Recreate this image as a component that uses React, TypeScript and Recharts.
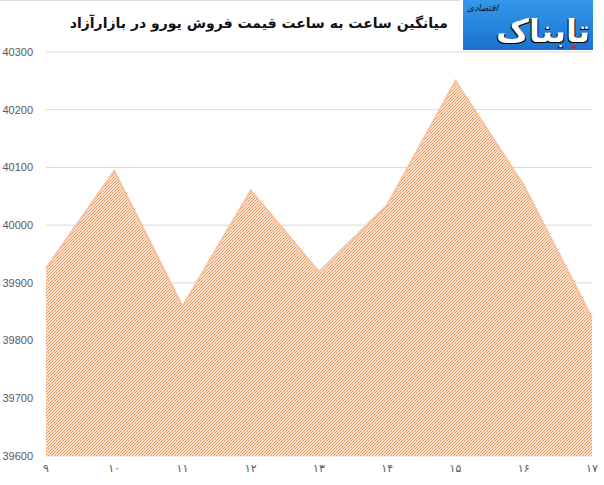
import React from "react";
import { AreaChart, Area, XAxis, YAxis, CartesianGrid } from "recharts";

const hours = ["۹", "۱۰", "۱۱", "۱۲", "۱۳", "۱۴", "۱۵", "۱۶", "۱۷"];
const prices = [39925, 40094, 39859, 40060, 39919, 40035, 40250, 40069, 39839];
const yTicks = [39600, 39700, 39800, 39900, 40000, 40100, 40200, 40300];

const data = hours.map((hour, i) => ({ hour, price: prices[i] }));

const title = "میانگین ساعت به ساعت قیمت فروش یورو در بازارآزاد";

function Logo() {
  return (
    <div
      style={{
        position: "absolute",
        left: 463,
        top: 0,
        width: 130,
        height: 50,
        background: "linear-gradient(180deg, #3499ea 0%, #1a72cf 100%)",
        overflow: "hidden",
      }}
    >
      <div
        dir="rtl"
        style={{
          position: "absolute",
          right: 3,
          top: 16,
          fontFamily: "'DejaVu Sans', sans-serif",
          fontWeight: "bold",
          fontSize: 32,
          color: "#ffffff",
          textShadow: "1px 1px 0 #000, -1px 1px 0 #000",
          lineHeight: "30px",
        }}
      >
        تابناک
      </div>
      <div
        dir="rtl"
        style={{
          position: "absolute",
          left: 4,
          top: 2,
          fontFamily: "'DejaVu Sans', sans-serif",
          fontSize: 9,
          fontStyle: "italic",
          color: "#111111",
          lineHeight: "12px",
        }}
      >
        اقتصادی
      </div>
      <div
        style={{
          position: "absolute",
          right: 17,
          top: 45,
          width: 4,
          height: 4,
          borderRadius: 2,
          background: "#e02020",
        }}
      />
    </div>
  );
}

export default function App() {
  return (
    <div
      style={{
        position: "absolute",
        left: 0,
        top: 0,
        width: 604,
        height: 485,
        background: "#ffffff",
        overflow: "hidden",
      }}
    >
      <div
        style={{
          position: "absolute",
          left: 0,
          top: 0,
          width: 460,
          height: 1,
          background: "#dcdcdc",
        }}
      />
      <div
        dir="rtl"
        style={{
          position: "absolute",
          right: 156,
          top: 15,
          fontFamily: "'DejaVu Sans', sans-serif",
          fontWeight: "bold",
          fontSize: 14,
          letterSpacing: 0.35,
          color: "#111111",
          whiteSpace: "nowrap",
        }}
      >
        {title}
      </div>
      <div style={{ position: "absolute", left: 0, top: 0 }}>
        <AreaChart
          width={604}
          height={485}
          data={data}
          margin={{ top: 52, right: 12, bottom: 0, left: 0 }}
        >
          <defs>
            <pattern
              id="hatch"
              patternUnits="userSpaceOnUse"
              width="3"
              height="3"
            >
              <rect width="3" height="3" fill="#fde5d3" shapeRendering="crispEdges" />
              <rect x="0" y="2" width="1" height="1" fill="#f0955b" shapeRendering="crispEdges" />
              <rect x="1" y="1" width="1" height="1" fill="#f0955b" shapeRendering="crispEdges" />
              <rect x="2" y="0" width="1" height="1" fill="#f0955b" shapeRendering="crispEdges" />
            </pattern>
          </defs>
          <CartesianGrid vertical={false} stroke="#d9d9d9" />
          <XAxis
            dataKey="hour"
            height={29}
            axisLine={false}
            tickLine={false}
            interval={0}
            tick={{ fill: "#595959", fontSize: 11, fontFamily: "'DejaVu Sans', sans-serif" }}
          />
          <YAxis
            width={46}
            domain={[39600, 40300]}
            ticks={yTicks}
            axisLine={false}
            tickLine={false}
            tickMargin={7}
            tick={{ fill: "#595959", fontSize: 11, fontFamily: "'Liberation Sans', sans-serif" }}
          />
          <Area
            type="linear"
            dataKey="price"
            stroke="#f7c29f"
            strokeWidth={2}
            fill="url(#hatch)"
            fillOpacity={1}
            isAnimationActive={false}
          />
        </AreaChart>
      </div>
      <Logo />
    </div>
  );
}
